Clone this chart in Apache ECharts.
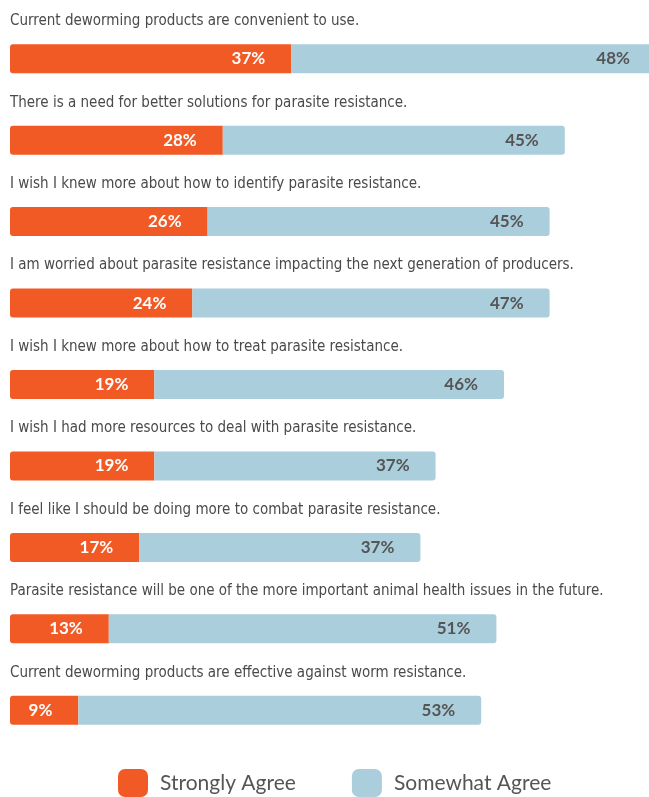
<!DOCTYPE html>
<html>
<head>
<meta charset="utf-8">
<script src="https://cdn.jsdelivr.net/npm/echarts@6/dist/echarts.min.js"></script>
<style>
  html, body { margin: 0; padding: 0; background: #fff; }
  #chart { width: 649px; height: 797px; }
</style>
</head>
<body>
<div id="chart"></div>
<script>
// statements, top to bottom
const statements = [
  'Current deworming products are convenient to use.',
  'There is a need for better solutions for parasite resistance.',
  'I wish I knew more about how to identify parasite resistance.',
  'I am worried about parasite resistance impacting the next generation of producers.',
  'I wish I knew more about how to treat parasite resistance.',
  'I wish I had more resources to deal with parasite resistance.',
  'I feel like I should be doing more to combat parasite resistance.',
  'Parasite resistance will be one of the more important animal health issues in the future.',
  'Current deworming products are effective against worm resistance.'
];
const stronglyAgree = [37, 28, 26, 24, 19, 19, 17, 13, 9];
const somewhatAgree = [48, 45, 45, 47, 46, 37, 37, 51, 53];

const ORANGE = '#F15A24';
const BLUE = '#AACEDC';
const GREY = '#555555';

const chart = echarts.init(document.getElementById('chart'));

chart.setOption({
  backgroundColor: '#fff',
  animation: false,
  // 第一条超出画布, 让画布自己裁掉
  grid: { left: 10, width: 760, top: 18, height: 733, outerBoundsMode: 'none' },
  legend: {
    data: ['Strongly Agree', 'Somewhat Agree'],
    left: 118,
    top: 769,
    padding: 0,
    icon: 'roundRect',
    itemWidth: 30,
    itemHeight: 28,
    itemGap: 56,
    textStyle: { color: GREY, fontSize: 21, fontFamily: 'Lato', padding: [2, 0, 0, 7] }
  },
  xAxis: {
    type: 'value',
    min: 0,
    max: 100,
    show: false
  },
  yAxis: {
    type: 'category',
    data: statements,
    inverse: true,
    axisLine: { show: false },
    axisTick: { show: false },
    splitLine: { show: false },
    axisLabel: {
      inside: true,
      margin: 0,
      align: 'left',
      verticalAlign: 'bottom',
      padding: [0, 0, 30, 0],
      color: '#4a4a4a',
      fontSize: 15,
      fontFamily: '"DejaVu Sans Condensed", "Liberation Sans", sans-serif'
    }
  },
  series: [
    {
      name: 'Strongly Agree',
      type: 'bar',
      stack: 'agree',
      data: stronglyAgree,
      barWidth: 29,
      itemStyle: { color: ORANGE, borderRadius: [3, 0, 0, 3] },
      label: {
        show: true,
        position: 'insideRight',
        distance: 26,
        formatter: '{c}%',
        color: '#fff',
        fontSize: 17,
        fontWeight: 'bold',
        fontFamily: 'Lato'
      }
    },
    {
      name: 'Somewhat Agree',
      type: 'bar',
      stack: 'agree',
      data: somewhatAgree,
      barWidth: 29,
      itemStyle: { color: BLUE, borderRadius: [0, 3, 3, 0] },
      label: {
        show: true,
        position: 'insideRight',
        distance: 26,
        formatter: '{c}%',
        color: GREY,
        fontSize: 17,
        fontWeight: 'bold',
        fontFamily: 'Lato'
      }
    }
  ]
});
</script>
</body>
</html>
